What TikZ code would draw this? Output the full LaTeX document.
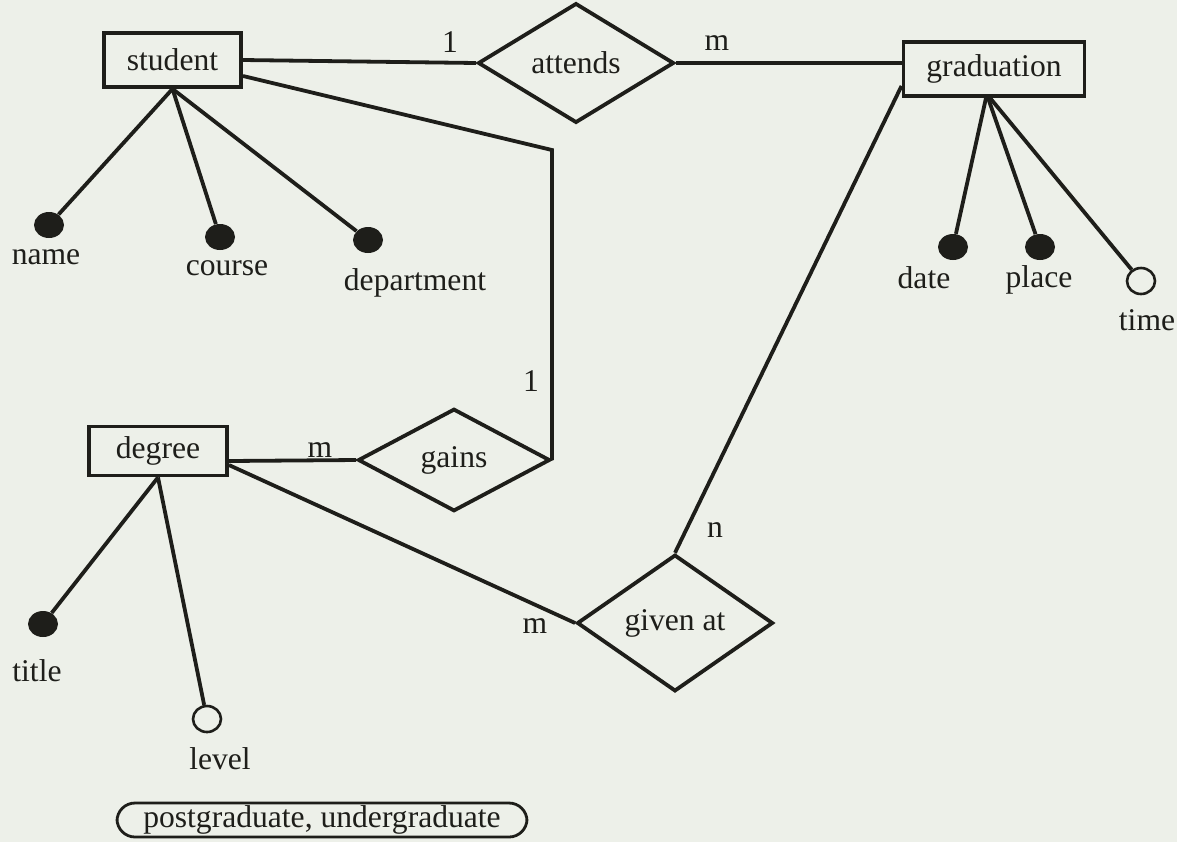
\documentclass[tikz,border=0pt]{standalone}
\usepackage{fontspec}
\setmainfont{Liberation Serif}
\usetikzlibrary{shapes.geometric, positioning, calc}
\definecolor{paper}{RGB}{237,240,233}
\definecolor{ink}{RGB}{30,30,26}

\begin{document}
\begin{tikzpicture}[
	x=0.5pt, y=-0.5pt, % one unit = one pixel of the sheet
	font=\fontsize{15.8}{19}\selectfont,
	every node/.style={text=ink},
	entity/.style={draw=ink, rectangle, line width=1.9pt, inner xsep=11.5pt, minimum height=27pt},
	relation/.style={draw=ink, diamond, line width=1.9pt, inner sep=1pt, minimum width=98pt, minimum height=50pt},
	key_attr/.style={ellipse, fill=ink, inner sep=0pt, minimum width=15pt, minimum height=13pt},
	opt_attr/.style={ellipse, draw=ink, line width=1.3pt, inner sep=0pt, minimum width=14pt, minimum height=13pt},
	card/.style={inner sep=1pt},
	note/.style={draw=ink, rounded corners=9pt, line width=1.4pt, minimum width=205pt, minimum height=17pt, inner sep=1pt},
	link/.style={draw=ink, line width=1.9pt}
	]
	
	% --- Sheet ---
	\fill[paper] (0,0) rectangle (1177,842);
	\useasboundingbox (0,0) rectangle (1177,842);
	
	% --- Entities and relationships ---
	\node[entity] (student) at (172.5,60) {student};
	\node[entity] (graduation) at (994,69) {graduation};
	\node[entity, minimum width=69pt, minimum height=24.5pt] (degree) at (158,451) {degree};
	
	\node[relation] (attends) at (576,63) {attends};
	\node[relation, minimum width=96pt] (gains) at (454,460) {gains};
	\node[relation] (given_at) at (675,623) {given at};
	
	% --- Attributes of student ---
	\node[key_attr] (name_dot) at (49,225) {};
	\node[key_attr] (course_dot) at (220,237) {};
	\node[key_attr] (dept_dot) at (368,240) {};
	\node (name_label) at (46,257) {name};
	\node (course_label) at (227,268) {course};
	\node (dept_label) at (415,283) {department};
	
	% --- Attributes of graduation ---
	\node[key_attr] (date_dot) at (953,247) {};
	\node[key_attr] (place_dot) at (1040,247) {};
	\node[opt_attr] (time_dot) at (1141,281) {};
	\node (date_label) at (924,278) {date};
	\node (place_label) at (1039,280) {place};
	\node (time_label) at (1147,320) {time};
	
	% --- Attributes of degree ---
	\node[key_attr] (title_dot) at (43,624) {};
	\node[opt_attr] (level_dot) at (207,719) {};
	\node (title_label) at (37,671) {title};
	\node (level_label) at (220,759) {level};
	\node[note] (level_values) at (322,820) {postgraduate, undergraduate};
	
	% --- Cardinalities ---
	\node[card] (att_one) at (450,42) {1};
	\node[card] (att_many) at (717,43) {m};
	\node[card] (gain_one) at (531,381) {1};
	\node[card] (gain_many) at (320,450) {m};
	\node[card] (given_many) at (535,626) {m};
	\node[card] (given_n) at (715,530) {n};
	
	% Connectors between entities and relationships
	\coordinate (gain_bend) at (gains.east |- 0,150);
	\draw[link] (student.east) -- (attends.west);
	\draw[link] (attends.east) -- (graduation.west |- attends.east);
	\draw[link] ([yshift=-8pt]student.east) -- (gain_bend) -- (gains.east);
	\draw[link] ([yshift=-5pt]degree.east) -- (gains.west);
	\draw[link] ([yshift=-7pt]degree.east) -- (given_at.west);
	\draw[link] (given_at.north) -- ([yshift=6pt]graduation.south west);
	
	% Connectors to attributes
	\draw[link] (student.south) -- (name_dot);
	\draw[link] (student.south) -- (course_dot);
	\draw[link] (student.south) -- (dept_dot);
	\draw[link] ([xshift=-4pt]graduation.south) -- (date_dot);
	\draw[link] ([xshift=-3pt]graduation.south) -- (place_dot);
	\draw[link] ([xshift=-2pt]graduation.south) -- (time_dot);
	\draw[link] (degree.south) -- (title_dot);
	\draw[link] (degree.south) -- (level_dot);
	
\end{tikzpicture}
\end{document}
